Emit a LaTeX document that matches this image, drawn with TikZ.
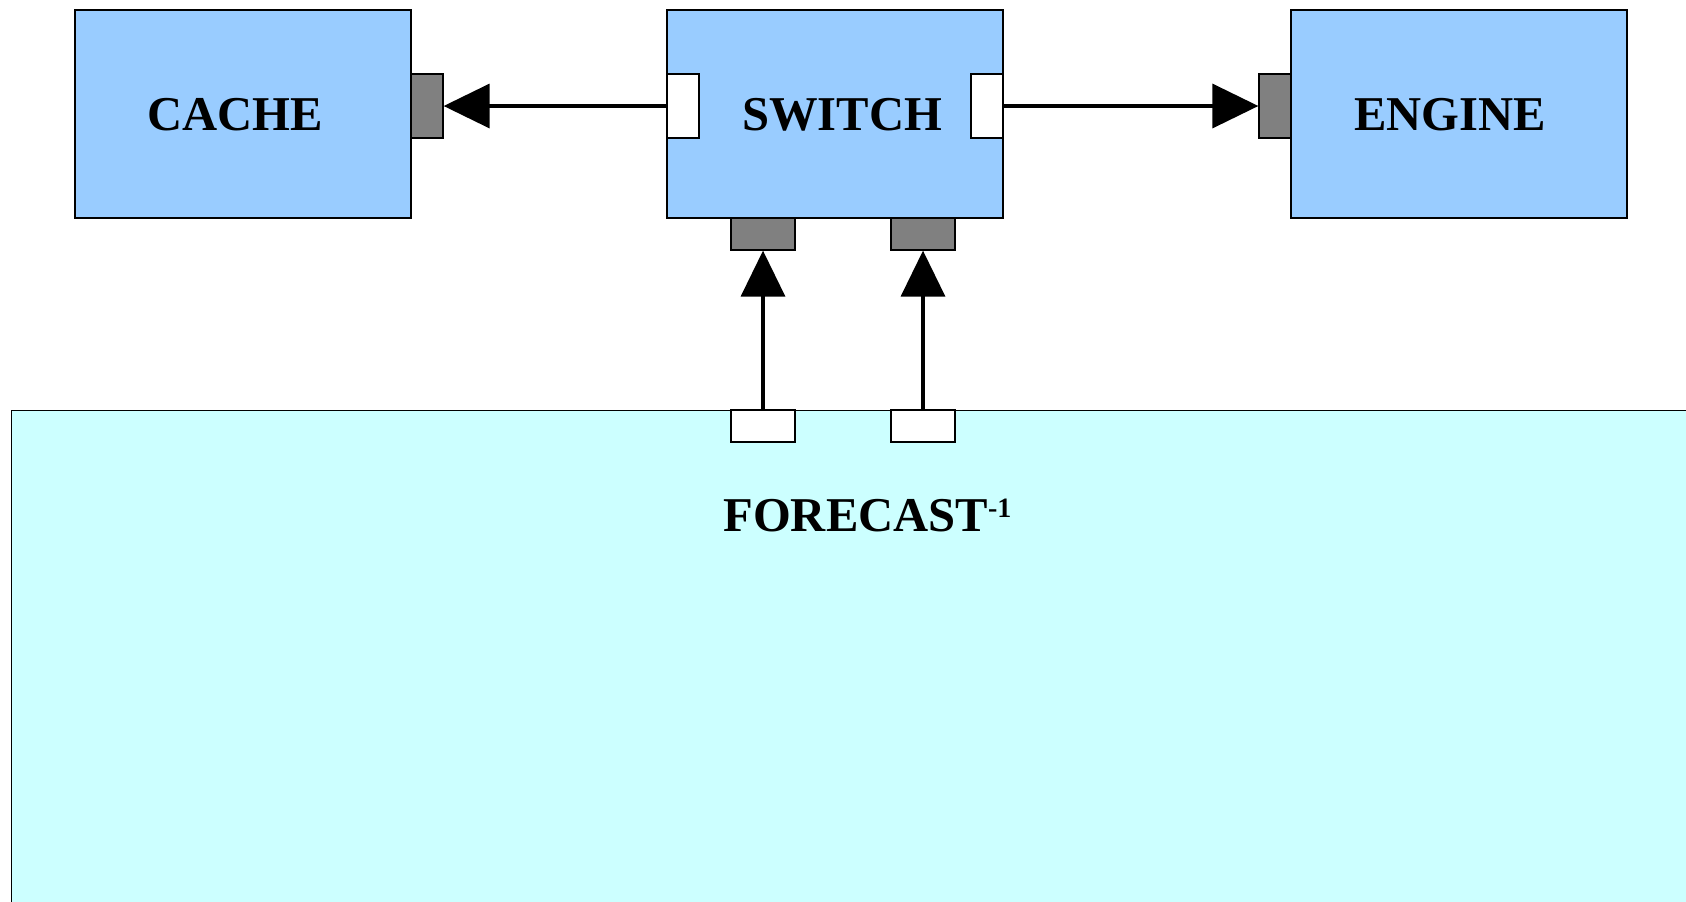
\documentclass[tikz,border=0pt]{standalone}
\usepackage{fontspec}
\setmainfont{Liberation Serif}
\usetikzlibrary{arrows.meta}
\definecolor{boxblue}{HTML}{99CCFF}
\definecolor{fcyan}{HTML}{CCFFFF}
\definecolor{portgray}{HTML}{808080}
\begin{document}
\begin{tikzpicture}[x=0.5pt,y=-0.5pt,
  blockbox/.style={draw=black, fill=boxblue, line width=0.65pt, minimum width=168pt, minimum height=104pt, inner sep=0pt},
  hport/.style={draw=black, line width=0.65pt, minimum width=16pt, minimum height=32pt, inner sep=0pt},
  vport/.style={draw=black, line width=0.65pt, minimum width=32pt, minimum height=16pt, inner sep=0pt},
  inport/.style={fill=portgray},
  outport/.style={fill=white},
  lbl/.style={font=\fontsize{24.3}{28}\selectfont\bfseries, inner sep=0pt, anchor=base},
  arr/.style={line width=1.75pt, -{Triangle[length=23pt,width=22pt]}}
]
\useasboundingbox (0,0) rectangle (1686,901);
\begin{scope}
\clip (0,0) rectangle (1686,901);
\node[draw=black, fill=fcyan, line width=0.7pt, minimum width=860pt, minimum height=260pt, inner sep=0pt, anchor=north west] (forecast) at (11,410) {};
\end{scope}
\node[blockbox] (cache) at (243,114) {};
\node[blockbox] (switch) at (835,114) {};
\node[blockbox] (engine) at (1459,114) {};
\node[hport,inport] (cacheport) at (427,106) {};
\node[hport,outport] (swL) at (683,106) {};
\node[hport,outport] (swR) at (987,106) {};
\node[hport,inport] (engport) at (1275,106) {};
\node[vport,inport] (swB1) at (763,234) {};
\node[vport,inport] (swB2) at (923,234) {};
\node[vport,outport] (fcp1) at (763,426) {};
\node[vport,outport] (fcp2) at (923,426) {};
\node[lbl] (cachelbl) at (235,130) {CACHE};
\node[lbl] (switchlbl) at (842,130) {SWITCH};
\node[lbl] (enginelbl) at (1450,130) {ENGINE};
\node[lbl, anchor=base west] (forecastlbl) at (723,531) {FORECAST\raisebox{7pt}{\fontsize{14}{14}\selectfont -1}};
\draw[arr] (swL.west) -- (cacheport.east);
\draw[arr] (swR.east) -- (engport.west);
\draw[arr] (fcp1.north) -- (swB1.south);
\draw[arr] (fcp2.north) -- (swB2.south);
\end{tikzpicture}
\end{document}
